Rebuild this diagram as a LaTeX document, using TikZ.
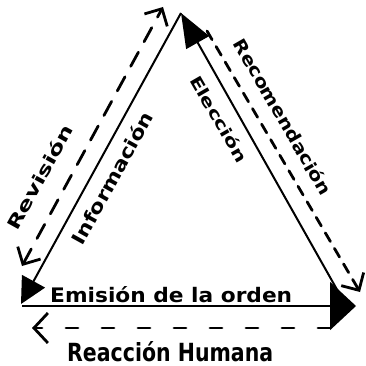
\documentclass[tikz,border=0pt]{standalone}
\usepackage{fontspec}
\setmainfont{DejaVu Sans}
\usetikzlibrary{arrows.meta}
\newcommand{\hwtext}[3]{\resizebox{#1}{#2}{\bfseries #3}}
\begin{document}
\begin{tikzpicture}[x=1pt,y=-1pt,
  solidln/.style={line width=2pt},
  dashln/.style={line width=2.8pt, line cap=round},
  lbl/.style={inner sep=0pt}]
\useasboundingbox (0,0) rectangle (365,366);
% vertices
\coordinate (T) at (181,13);
\coordinate (L) at (21,304);
\coordinate (Rb) at (344,302);
\coordinate (B0) at (22,306);
\coordinate (R) at (356,306);
% dashed ends
\coordinate (DL1) at (22,266);
\coordinate (DL2) at (163,7);
\coordinate (DR1) at (207,31);
\coordinate (DR2) at (360,292);
\coordinate (DB1) at (330,328);
\coordinate (DB2) at (32,328);
% solid arrows
\draw[solidln, -{Triangle[length=26pt,width=26pt]}] (T) -- (L);
\draw[solidln, -{Triangle[length=34pt,width=26pt]}] (Rb) -- (T);
\draw[solidln, -{Triangle[length=26pt,width=48pt]}] (B0) -- (R);
% dashed arrows
\draw[dashln, dash pattern=on 16pt off 12pt, {Straight Barb[length=13pt,width=26pt]}-{Straight Barb[length=13pt,width=26pt]}] (DL1) -- (DL2);
\draw[dashln, dash pattern=on 10pt off 8pt, -{Straight Barb[length=13pt,width=26pt]}] (DR1) -- (DR2);
\draw[dashln, dash pattern=on 12pt off 24pt, -{Straight Barb[length=14pt,width=30pt]}] (DB1) -- (DB2);
% labels
\node[lbl, rotate=61] (rev) at (40,177) {\hwtext{117pt}{14pt}{Revisión}};
\node[lbl, rotate=61] (inf) at (112,178) {\hwtext{148pt}{15pt}{Información}};
\node[lbl, rotate=-60] (ele) at (219,119) {\hwtext{97pt}{13pt}{Elección}};
\node[lbl, rotate=-60] (rec) at (283,117) {\hwtext{177pt}{14pt}{Recomendación}};
\node[lbl, anchor=base west] (emi) at (50,302) {\hwtext{242pt}{16pt}{Emisión de la orden}};
\node[lbl, anchor=base west] (rea) at (67,361) {\hwtext{206pt}{20pt}{Reacción Humana}};
\end{tikzpicture}
\end{document}
